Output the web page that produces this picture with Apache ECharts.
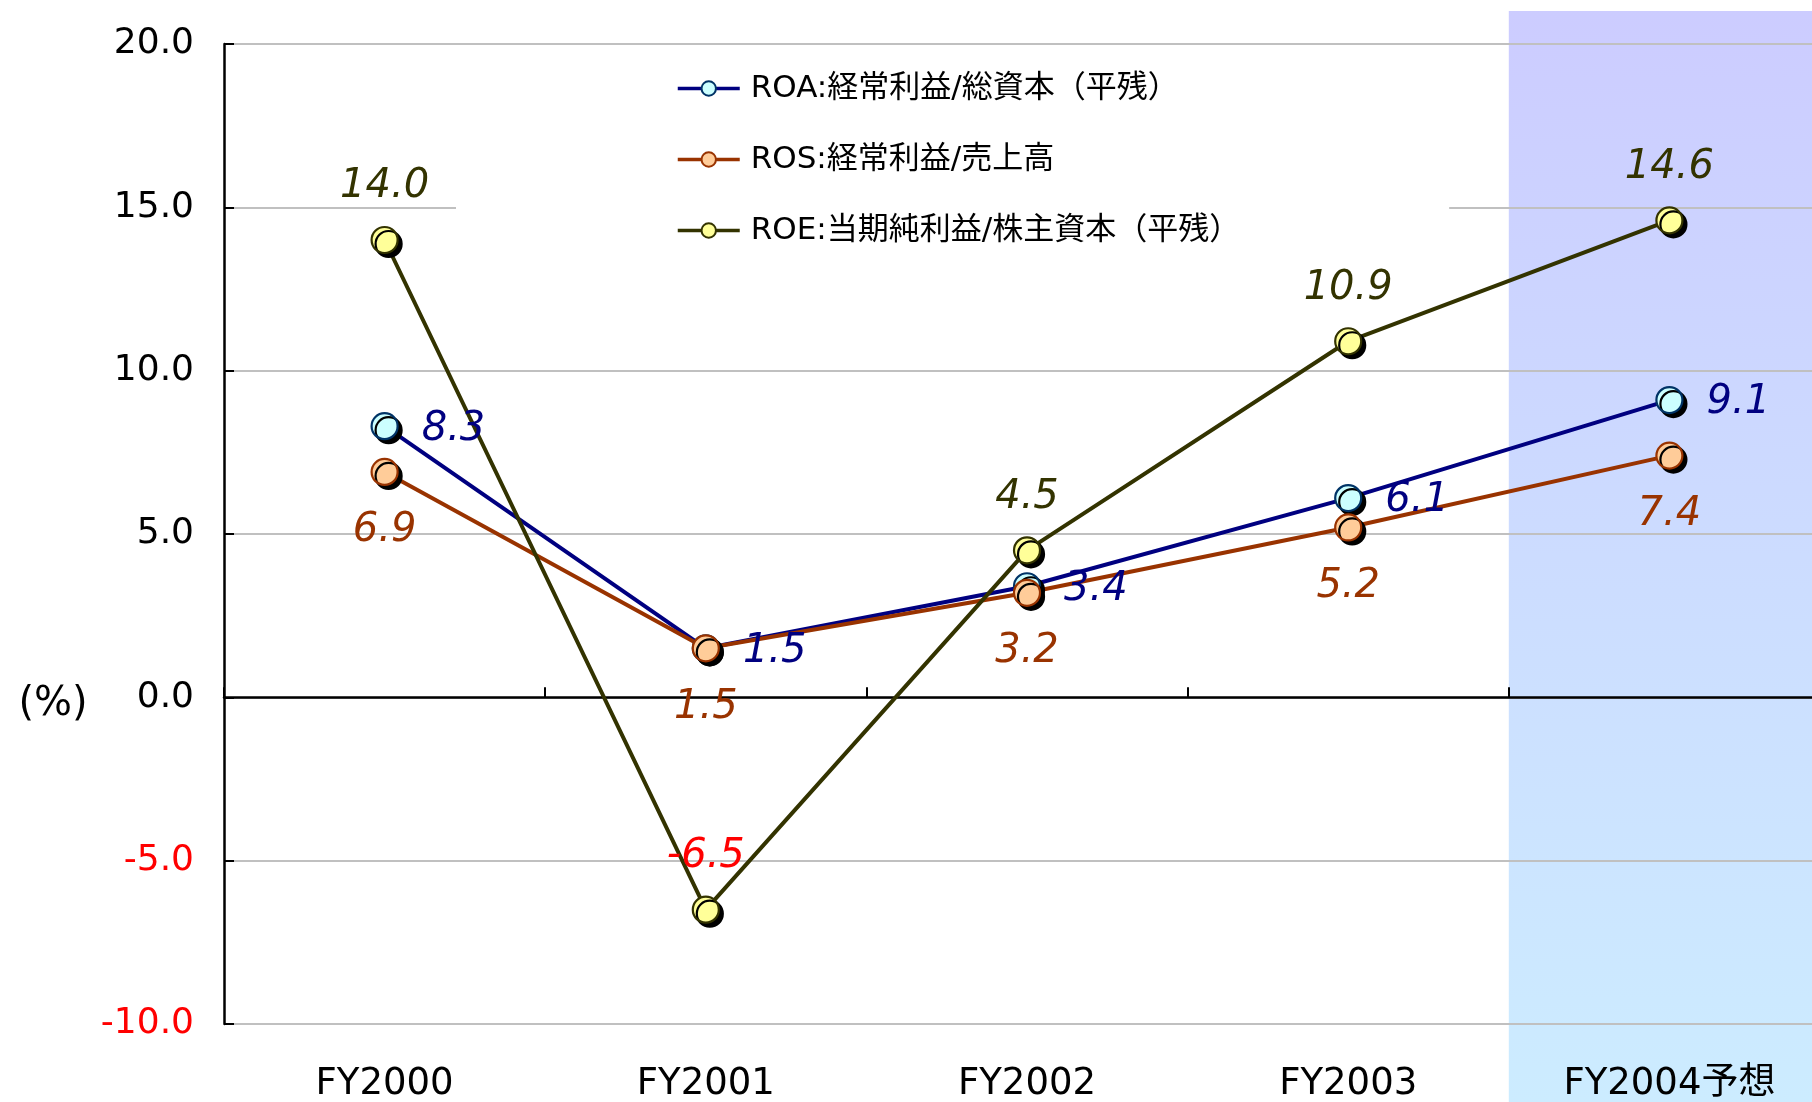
<!DOCTYPE html>
<html>
<head>
<meta charset="utf-8">
<script src="https://cdn.jsdelivr.net/npm/echarts@6/dist/echarts.min.js"></script>
<style>
html,body{margin:0;padding:0;background:#fff;}
#chart{width:1812px;height:1102px;}
</style>
</head>
<body>
<div id="chart"></div>
<script>
const categories = ['FY2000', 'FY2001', 'FY2002', 'FY2003', 'FY2004予想'];
const seriesNames = ['ROA:経常利益/総資本（平残）', 'ROS:経常利益/売上高', 'ROE:当期純利益/株主資本（平残）'];
const roaValues = [8.3, 1.5, 3.4, 6.1, 9.1];
const rosValues = [6.9, 1.5, 3.2, 5.2, 7.4];
const roeValues = [14.0, -6.5, 4.5, 10.9, 14.6];
const yMin = -10, yMax = 20, yStep = 5;
const unitLabel = '(%)';

const NUM_FONT = 'DejaVu Sans';
const chart = echarts.init(document.getElementById('chart'), null, {renderer: 'canvas'});

function mkData(arr) {
  return arr.map(v => v < 0 ? {value: v, label: {color: '#ff0000'}} : v);
}
function lineSeries(name, data, lineColor, fill, border, labelColor, pos, dist, offset) {
  return {
    name: name,
    type: 'line',
    xAxisIndex: 0,
    data: mkData(data),
    symbol: 'circle',
    symbolSize: 26,
    lineStyle: {color: lineColor, width: 4},
    itemStyle: {
      color: fill, borderColor: border, borderWidth: 2.2,
      shadowColor: '#000', shadowBlur: 0, shadowOffsetX: 4, shadowOffsetY: 4
    },
    label: {
      show: true, position: pos, distance: dist, offset: offset,
      color: labelColor, fontFamily: NUM_FONT, fontStyle: 'italic', fontSize: 40,
      formatter: p => Number(p.value).toFixed(1)
    },
    emphasis: {disabled: true},
    animation: false
  };
}

const option = {
  animation: false,
  backgroundColor: '#ffffff',
  grid: {left: 224, top: 44, right: -18, bottom: 78, containLabel: false, outerBoundsMode: 'none'},
  legend: {
    data: seriesNames,
    orient: 'vertical',
    left: 456, top: 62,
    padding: [11, 209, 16, 220],
    backgroundColor: '#ffffff',
    itemWidth: 62, itemHeight: 18, itemGap: 40,
    itemStyle: {shadowBlur: 0, shadowOffsetX: 0, shadowOffsetY: 0, shadowColor: 'rgba(0,0,0,0)', borderWidth: 2},
    lineStyle: {width: 3.5},
    textStyle: {fontFamily: "'DejaVu Sans', 'Noto Sans CJK JP'", fontSize: 31, color: '#000', padding: [0, 0, 0, 6]},
    selectedMode: false
  },
  xAxis: [
    {
      type: 'category', data: categories, position: 'bottom',
      axisLine: {show: false, onZero: false},
      axisTick: {show: false},
      splitLine: {show: false},
      axisLabel: {margin: 42, fontSize: 37, color: '#000', fontFamily: "'DejaVu Sans', 'Noto Sans CJK JP'"}
    },
    {
      type: 'category', data: categories, position: 'top',
      axisLine: {show: true, onZero: true, lineStyle: {color: '#000', width: 2.5}},
      axisTick: {show: true, inside: false, length: 10, lineStyle: {color: '#000', width: 2}},
      axisLabel: {show: false},
      splitLine: {show: false}
    }
  ],
  yAxis: {
    type: 'value', min: yMin, max: yMax, interval: yStep,
    axisLine: {show: true, lineStyle: {color: '#000', width: 2.5}},
    axisTick: {show: true, inside: true, length: 10, lineStyle: {color: '#000', width: 2}},
    splitLine: {show: true, lineStyle: {color: '#c0c0c0', width: 2}},
    axisLabel: {
      margin: 30, fontSize: 36, fontFamily: NUM_FONT, padding: [4, 0, 0, 0],
      formatter: v => v.toFixed(1),
      color: v => (Number(v) < 0 ? '#ff0000' : '#000000')
    }
  },
  series: [
    lineSeries(seriesNames[0], roaValues, '#000080', '#ccffff', '#003366', '#000080', 'right', 23, [0, 3]),
    lineSeries(seriesNames[1], rosValues, '#993300', '#ffcc99', '#993300', '#993300', 'bottom', 25, [0, 0]),
    lineSeries(seriesNames[2], roeValues, '#333300', '#ffff99', '#333300', '#333300', 'top', 19, [0, 0])
  ]
};
chart.setOption(option);

// Decorations positioned through the chart's own scales
const c3 = chart.convertToPixel({xAxisIndex: 0}, categories[3]);
const c4 = chart.convertToPixel({xAxisIndex: 0}, categories[4]);
const bandLeft = c4 - (c4 - c3) / 2;
const yTop = chart.convertToPixel({yAxisIndex: 0}, yMax);
const yZero = chart.convertToPixel({yAxisIndex: 0}, 0);
const bandTop = yTop - 33;
chart.setOption({
  graphic: [
    {
      type: 'rect', z: -1, silent: true,
      shape: {x: bandLeft, y: bandTop, width: 1812 - bandLeft, height: 1102 - bandTop},
      style: {
        fill: {type: 'linear', x: 0, y: 0, x2: 0, y2: 1,
          colorStops: [{offset: 0, color: '#ccccff'}, {offset: 1, color: '#ccecff'}]}
      }
    },
    {
      type: 'text', silent: true,
      x: 53, y: yZero + 7,
      style: {text: unitLabel, fontSize: 40, fontFamily: NUM_FONT, fill: '#000', align: 'center', verticalAlign: 'middle'}
    }
  ]
});
</script>
</body>
</html>
